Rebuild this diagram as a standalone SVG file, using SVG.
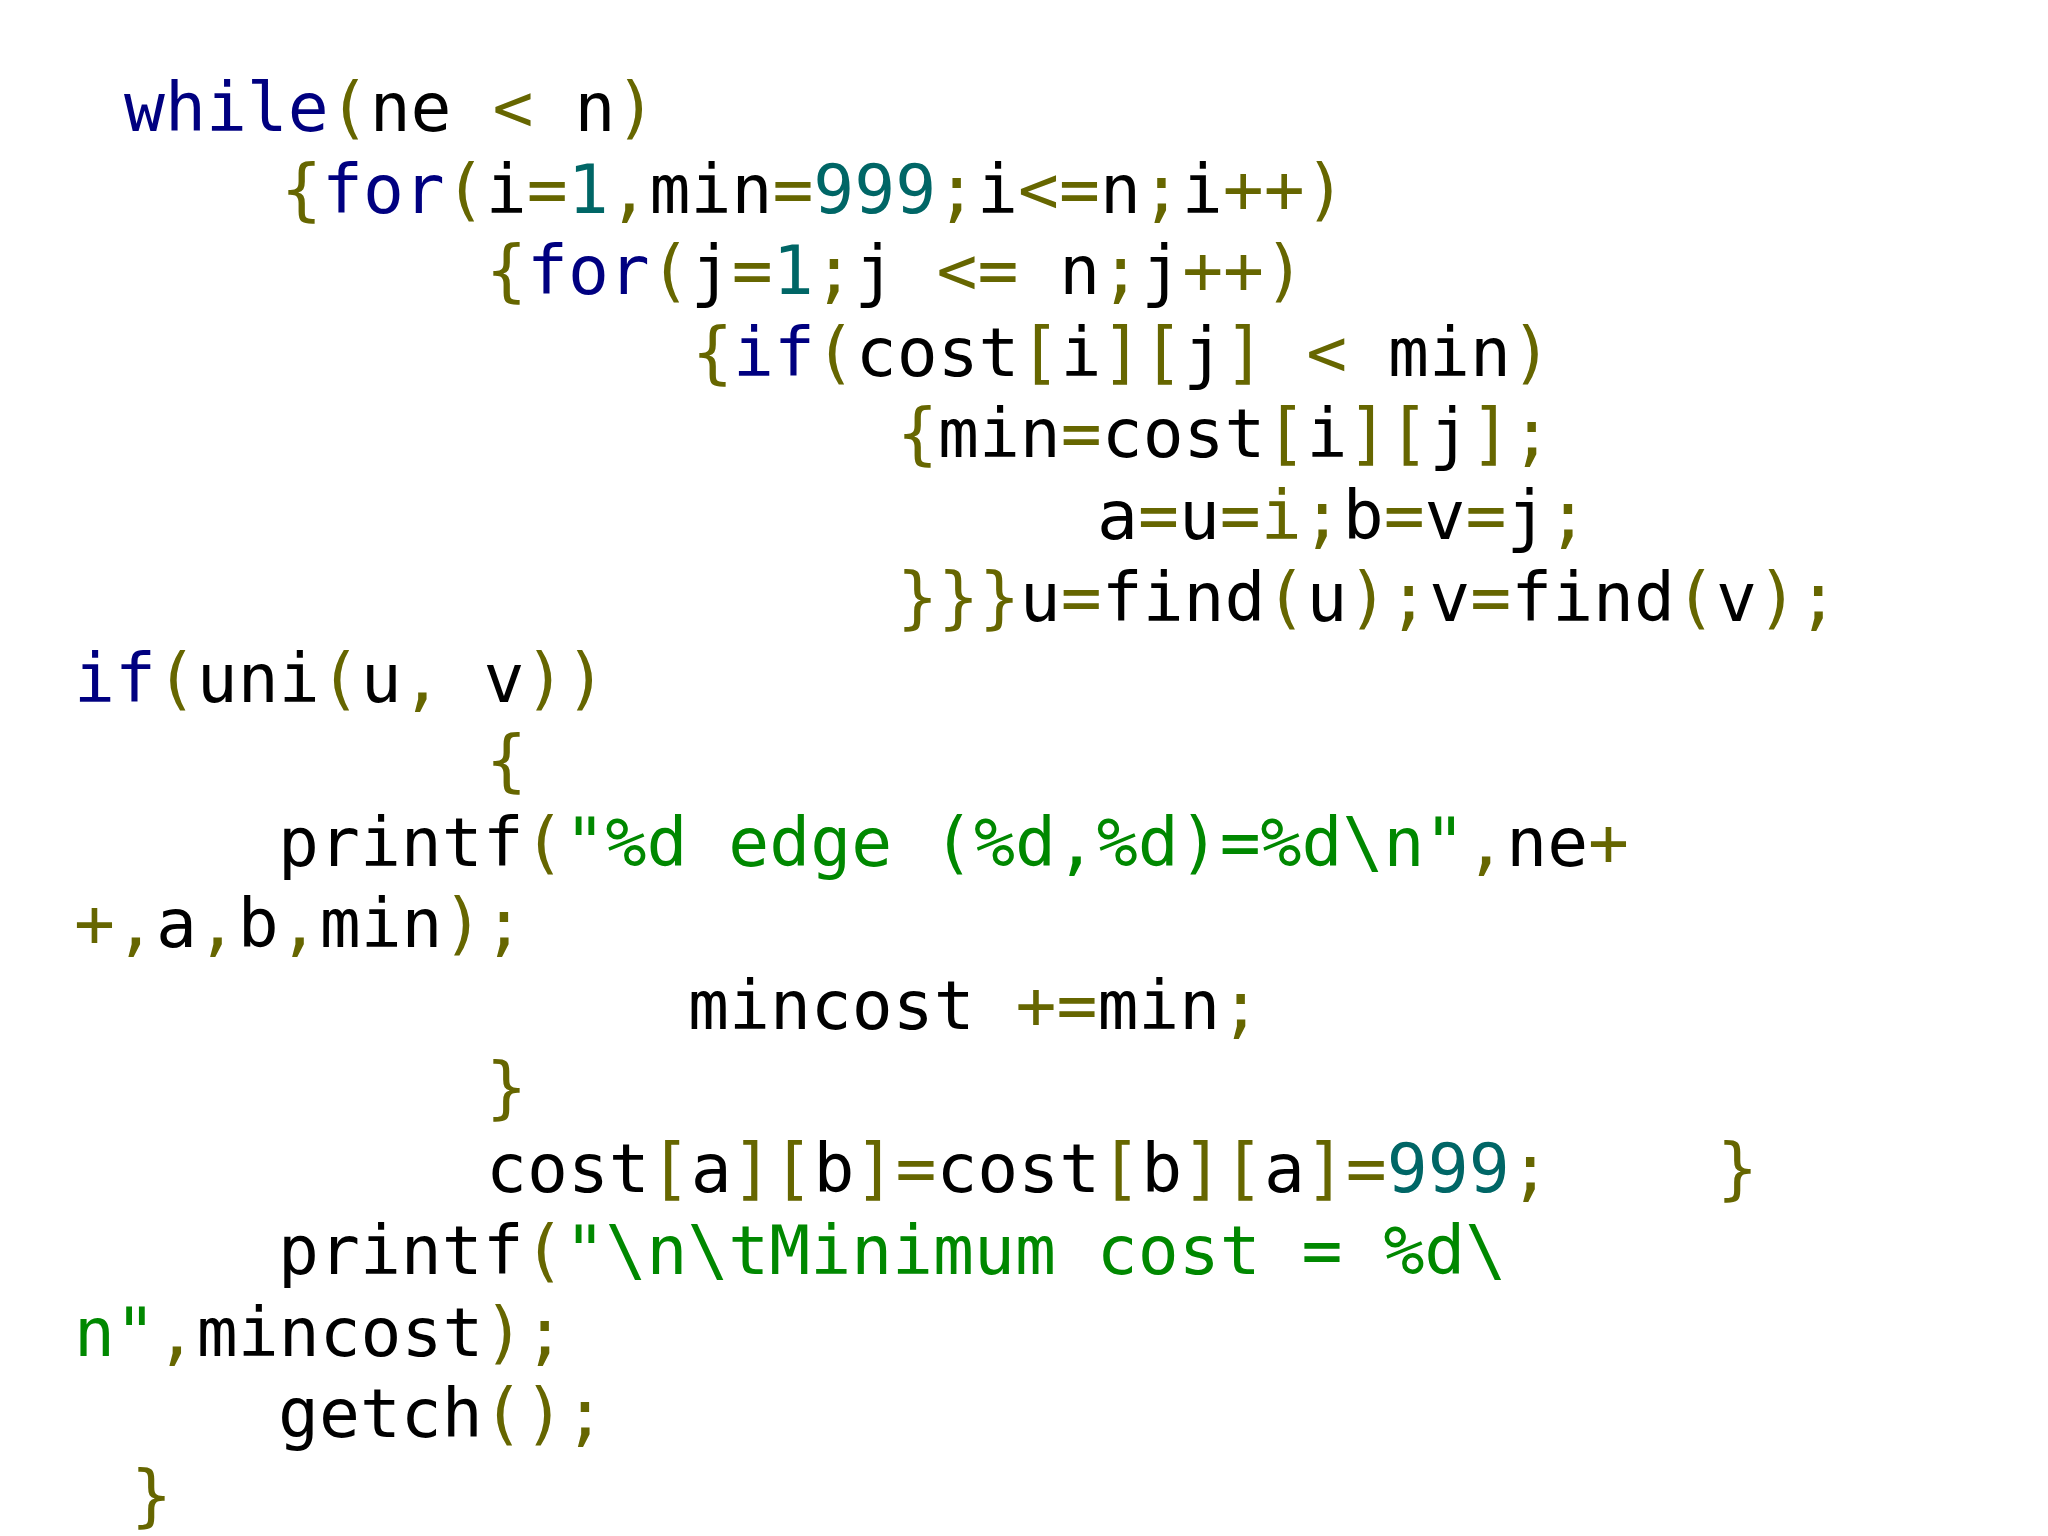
<svg xmlns="http://www.w3.org/2000/svg" width="2048" height="1536" viewBox="0 0 2048 1536">
<style>
text{font-family:"DejaVu Sans Mono","Liberation Mono",monospace;font-size:68px;fill:#000;white-space:pre}
.k{fill:#000080}.p{fill:#666600}.n{fill:#006666}.s{fill:#008800}
</style>
<rect width="2048" height="1536" fill="#fff"/>
<g id="code" xml:space="preserve">
<text x="124" y="131"><tspan class="k">while</tspan><tspan class="p">(</tspan>ne <tspan class="p">&lt;</tspan> n<tspan class="p">)</tspan></text>
<text x="281" y="213"><tspan class="p">{</tspan><tspan class="k">for</tspan><tspan class="p">(</tspan>i<tspan class="p">=</tspan><tspan class="n">1</tspan><tspan class="p">,</tspan>min<tspan class="p">=</tspan><tspan class="n">999</tspan><tspan class="p">;</tspan>i<tspan class="p">&lt;=</tspan>n<tspan class="p">;</tspan>i<tspan class="p">++)</tspan></text>
<text x="486" y="294"><tspan class="p">{</tspan><tspan class="k">for</tspan><tspan class="p">(</tspan>j<tspan class="p">=</tspan><tspan class="n">1</tspan><tspan class="p">;</tspan>j <tspan class="p">&lt;=</tspan> n<tspan class="p">;</tspan>j<tspan class="p">++)</tspan></text>
<text x="692" y="376"><tspan class="p">{</tspan><tspan class="k">if</tspan><tspan class="p">(</tspan>cost<tspan class="p">[</tspan>i<tspan class="p">][</tspan>j<tspan class="p">]</tspan> <tspan class="p">&lt;</tspan> min<tspan class="p">)</tspan></text>
<text x="897" y="457"><tspan class="p">{</tspan>min<tspan class="p">=</tspan>cost<tspan class="p">[</tspan>i<tspan class="p">][</tspan>j<tspan class="p">];</tspan></text>
<text x="1097" y="539">a<tspan class="p">=</tspan>u<tspan class="p">=</tspan><tspan class="p">i;</tspan>b<tspan class="p">=</tspan>v<tspan class="p">=</tspan>j<tspan class="p">;</tspan></text>
<text x="897" y="621"><tspan class="p">}}}</tspan>u<tspan class="p">=</tspan>find<tspan class="p">(</tspan>u<tspan class="p">);</tspan>v<tspan class="p">=</tspan>find<tspan class="p">(</tspan>v<tspan class="p">);</tspan></text>
<text x="74" y="702"><tspan class="k">if</tspan><tspan class="p">(</tspan>uni<tspan class="p">(</tspan>u<tspan class="p">,</tspan> v<tspan class="p">))</tspan></text>
<text x="486" y="784" class="p">{</text>
<text x="278" y="866">printf<tspan class="p">(</tspan><tspan class="s">"%d edge (%d,%d)=%d\n"</tspan><tspan class="p">,</tspan>ne<tspan class="p">+</tspan></text>
<text x="74" y="947"><tspan class="p">+,</tspan>a<tspan class="p">,</tspan>b<tspan class="p">,</tspan>min<tspan class="p">);</tspan></text>
<text x="688" y="1029">mincost <tspan class="p">+=</tspan>min<tspan class="p">;</tspan></text>
<text x="486" y="1111" class="p">}</text>
<text x="486" y="1192">cost<tspan class="p">[</tspan>a<tspan class="p">][</tspan>b<tspan class="p">]=</tspan>cost<tspan class="p">[</tspan>b<tspan class="p">][</tspan>a<tspan class="p">]=</tspan><tspan class="n">999</tspan><tspan class="p">;</tspan></text>
<text x="1717" y="1192" class="p">}</text>
<text x="278" y="1274">printf<tspan class="p">(</tspan><tspan class="s">"\n\tMinimum cost = %d\</tspan></text>
<text x="74" y="1356"><tspan class="s">n"</tspan><tspan class="p">,</tspan>mincost<tspan class="p">);</tspan></text>
<text x="278" y="1437">getch<tspan class="p">();</tspan></text>
<text x="131" y="1519" class="p">}</text>
</g>
</svg>
